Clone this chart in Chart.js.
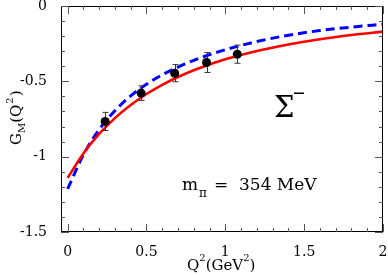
<!DOCTYPE html>
<html><head><meta charset="utf-8">
<script src="https://cdn.jsdelivr.net/npm/chart.js@4/dist/chart.umd.min.js"></script>
<style>html,body{margin:0;padding:0;background:#fff}#w{width:388px;height:275px}</style>
</head><body><div id="w"><canvas id="c"></canvas></div>
<script>
const curveQ2 = [0,0.1,0.2,0.3,0.4,0.5,0.6,0.7,0.8,0.9,1.0,1.2,1.4,1.6,1.8,2.0];
const redGM  = [-1.141,-0.979,-0.849,-0.744,-0.657,-0.584,-0.523,-0.471,-0.426,-0.388,-0.354,-0.299,-0.256,-0.221,-0.193,-0.170];
const blueGM = [-1.214,-0.988,-0.820,-0.695,-0.597,-0.520,-0.457,-0.405,-0.361,-0.323,-0.290,-0.236,-0.194,-0.163,-0.140,-0.121];
const dataQ2  = [0.238,0.466,0.679,0.881,1.076];
const dataGM  = [-0.766,-0.578,-0.446,-0.375,-0.320];
const dataErr = [0.060,0.048,0.057,0.066,0.060];
const xTicks = [0,0.5,1,1.5,2];
const yTicks = [0,-0.5,-1,-1.5];
const xTickLabels = ["0","0.5","1","1.5","2"];
const yTickLabels = ["0","-0.5","-1","-1.5"];

const F = '"DejaVu Serif", serif';
const pts = (xs, ys) => xs.map((x,i)=>({x, y: ys[i]}));

const deco = {
  id:'deco',
  afterDatasetsDraw(chart){
    const {ctx, chartArea:a, scales:{x, y}} = chart;
    ctx.save();
    ctx.strokeStyle = '#333'; ctx.lineWidth = 1;
    dataQ2.forEach((q,i)=>{
      const px = Math.round(x.getPixelForValue(q))+0.5;
      const y1 = y.getPixelForValue(dataGM[i]+dataErr[i]);
      const y2 = y.getPixelForValue(dataGM[i]-dataErr[i]);
      ctx.beginPath();
      ctx.moveTo(px,y1); ctx.lineTo(px,y2);
      ctx.moveTo(px-3,y1); ctx.lineTo(px+3,y1);
      ctx.moveTo(px-3,y2); ctx.lineTo(px+3,y2);
      ctx.stroke();
    });
    ctx.fillStyle = '#000';
    dataQ2.forEach((q,i)=>{
      ctx.beginPath();
      ctx.arc(x.getPixelForValue(q), y.getPixelForValue(dataGM[i]), 4.5, 0, Math.PI*2);
      ctx.fill();
    });
    ctx.strokeStyle = '#000'; ctx.lineWidth = 1;
    ctx.strokeRect(Math.round(a.left)+0.5, Math.round(a.top)+0.5, Math.round(a.right-a.left)-1, Math.round(a.bottom-a.top)-1);
    ctx.strokeStyle = '#555';
    ctx.beginPath();
    for (let k=0;k<=20;k++){
      const v = k/10; const px = Math.round(x.getPixelForValue(v))+0.5;
      const L = (k%5===0)?8:4;
      ctx.moveTo(px,a.bottom); ctx.lineTo(px,a.bottom-L);
      ctx.moveTo(px,a.top); ctx.lineTo(px,a.top+L);
    }
    for (let k=0;k<=15;k++){
      const v = -k/10; const py = Math.round(y.getPixelForValue(v))+0.5;
      const L = (k%5===0)?8:4;
      ctx.moveTo(a.left,py); ctx.lineTo(a.left+L,py);
      ctx.moveTo(a.right,py); ctx.lineTo(a.right-L,py);
    }
    ctx.stroke();
    ctx.fillStyle = '#000';
    ctx.textBaseline = 'alphabetic';
    ctx.textAlign = 'left';
    ctx.font = '29px '+F;
    ctx.fillText('\u03A3', 274, 117);
    ctx.fillRect(294, 92.5, 10, 1.5);
    ctx.font = '17px '+F;
    ctx.fillText('m', 182, 190);
    ctx.font = '12px '+F;
    ctx.fillText('\u03C0', 199, 197);
    ctx.font = '17px '+F;
    ctx.fillText('=', 214, 190);
    ctx.fillText('354 MeV', 239, 190);
    ctx.font = '15px '+F;
    let xx = 187;
    ctx.fillText('Q', xx, 270); xx += ctx.measureText('Q').width;
    ctx.font = '10px '+F; ctx.fillText('2', xx, 261); xx += ctx.measureText('2').width;
    ctx.font = '15px '+F; ctx.fillText('(GeV', xx, 270); xx += ctx.measureText('(GeV').width;
    ctx.font = '10px '+F; ctx.fillText('2', xx, 261); xx += ctx.measureText('2').width;
    ctx.font = '15px '+F; ctx.fillText(')', xx, 270);
    ctx.translate(21, 145); ctx.rotate(-Math.PI/2);
    let yy = 0;
    ctx.font = '15px '+F; ctx.fillText('G', yy, 0); yy += ctx.measureText('G').width;
    ctx.font = '10px '+F; ctx.fillText('M', yy, 4); yy += ctx.measureText('M').width;
    ctx.font = '15px '+F; ctx.fillText('(Q', yy, 0); yy += ctx.measureText('(Q').width;
    ctx.font = '10px '+F; ctx.fillText('2', yy+1, -8); yy += ctx.measureText('2').width+2;
    ctx.font = '15px '+F; ctx.fillText(')', yy, 0);
    ctx.restore();
  }
};

new Chart(document.getElementById('c'), {
  type: 'scatter',
  data: { datasets: [
    { data: pts(curveQ2, redGM), showLine: true, borderColor: '#ff0000', borderWidth: 2.6, pointRadius: 0, cubicInterpolationMode: 'monotone', fill: false },
    { data: pts(curveQ2, blueGM), showLine: true, borderColor: '#0000ff', borderWidth: 3, borderDash: [9,5], pointRadius: 0, cubicInterpolationMode: 'monotone', fill: false },
  ]},
  options: {
    responsive: true, maintainAspectRatio: false, animation: false,
    layout: { padding: { top: 6, right: 5, left: 0, bottom: 0 } },
    plugins: { legend: { display: false }, tooltip: { enabled: false } },
    scales: {
      x: { type: 'linear', min: -0.042, max: 2,
        grid: { display: false }, border: { display: false },
        afterBuildTicks: s => { s.ticks = xTicks.map(v=>({value:v})); },
        afterFit: s => { s.height = 43; s.paddingLeft = 0; s.paddingRight = 0; },
        ticks: { color: '#000', font: { family: F, size: 14 }, padding: 4, maxRotation: 0,
          callback: (v) => xTickLabels[xTicks.indexOf(v)] }
      },
      y: { type: 'linear', min: -1.5, max: 0,
        grid: { display: false }, border: { display: false },
        afterBuildTicks: s => { s.ticks = yTicks.map(v=>({value:v})); },
        afterFit: s => { s.width = 61; s.paddingTop = 0; s.paddingBottom = 0; },
        ticks: { color: '#000', font: { family: F, size: 14 }, padding: 6,
          callback: (v) => yTickLabels[yTicks.indexOf(v)] }
      }
    }
  },
  plugins: [deco]
});
</script></body></html>
